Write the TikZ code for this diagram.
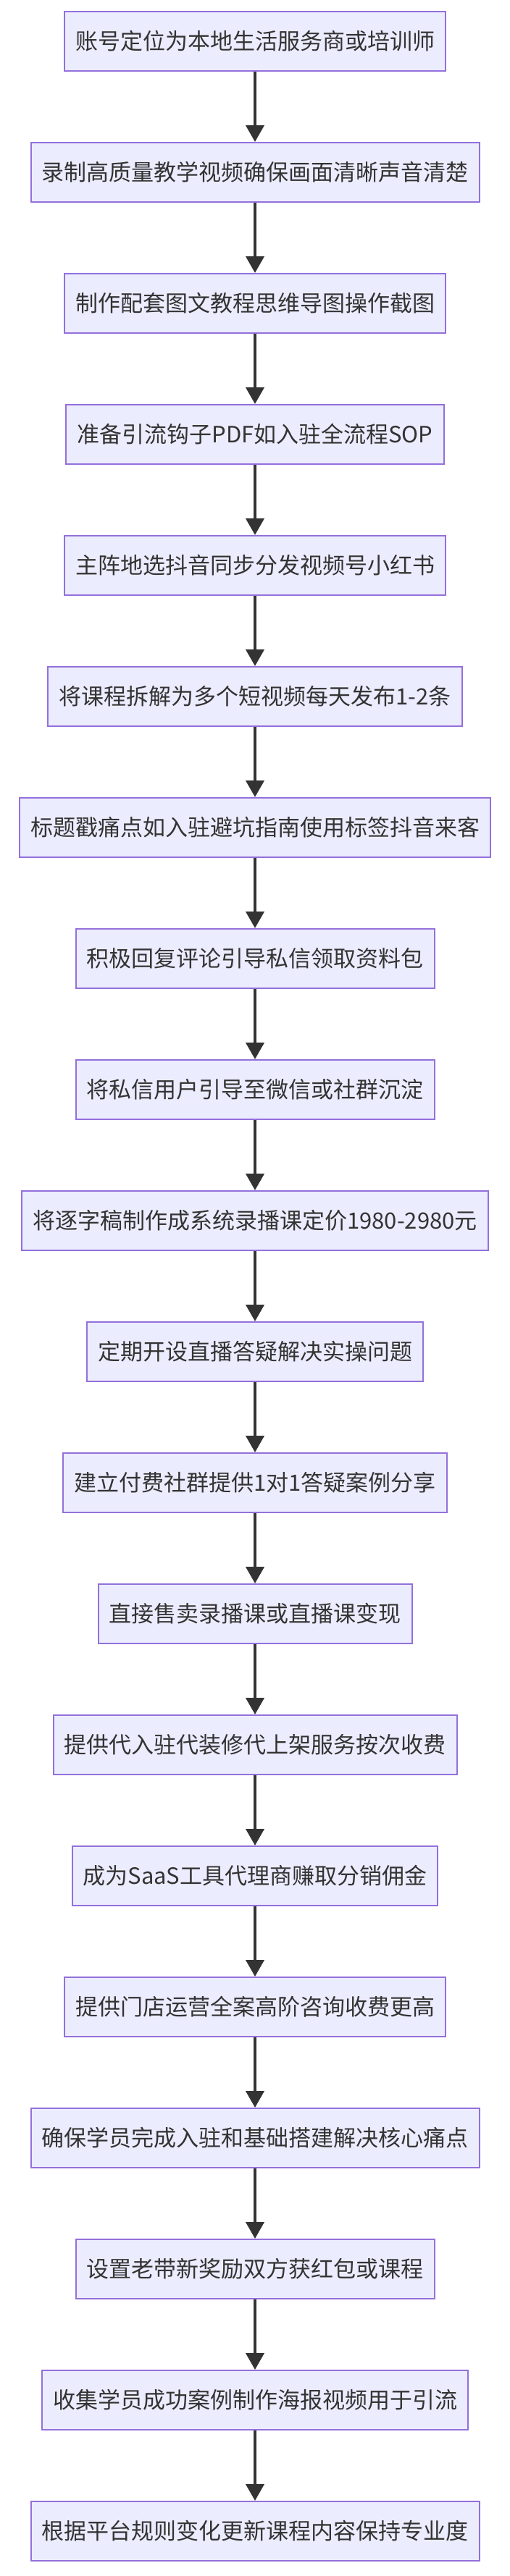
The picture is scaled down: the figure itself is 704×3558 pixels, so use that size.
\documentclass[tikz,border=0pt]{standalone}
\usepackage{fontspec}
\newfontfamily\cjk{Noto Sans CJK SC}
\usetikzlibrary{arrows.meta}
\definecolor{boxfill}{HTML}{ECECFF}
\definecolor{boxline}{HTML}{9370DB}
\definecolor{arr}{HTML}{333333}
\tikzset{
  stepbox/.style={draw=boxline, fill=boxfill, line width=2pt, minimum height=82pt, inner xsep=15pt, inner ysep=0pt, font=\cjk\fontsize{31}{36}\selectfont, text=arr},
  flow/.style={draw=arr, line width=4pt, -{Triangle[length=23pt,width=25pt]}}
}
\begin{document}
\begin{tikzpicture}[x=1pt,y=1pt]
\useasboundingbox (0,0) rectangle (704,-3558);
\foreach \t [count=\i] in {
账号定位为本地生活服务商或培训师,
录制高质量教学视频确保画面清晰声音清楚,
制作配套图文教程思维导图操作截图,
准备引流钩子PDF如入驻全流程SOP,
主阵地选抖音同步分发视频号小红书,
将课程拆解为多个短视频每天发布1-2条,
标题戳痛点如入驻避坑指南使用标签抖音来客,
积极回复评论引导私信领取资料包,
将私信用户引导至微信或社群沉淀,
将逐字稿制作成系统录播课定价1980-2980元,
定期开设直播答疑解决实操问题,
建立付费社群提供1对1答疑案例分享,
直接售卖录播课或直播课变现,
提供代入驻代装修代上架服务按次收费,
成为SaaS工具代理商赚取分销佣金,
提供门店运营全案高阶咨询收费更高,
确保学员完成入驻和基础搭建解决核心痛点,
设置老带新奖励双方获红包或课程,
收集学员成功案例制作海报视频用于引流,
根据平台规则变化更新课程内容保持专业度}
{
  \node[stepbox] (n\i) at (352,{-57-181*(\i-1)}) {\t};
}
\foreach \i [evaluate=\i as \j using int(\i+1)] in {1,...,19}
  \draw[flow] (n\i) -- (n\j);
\end{tikzpicture}
\end{document}
